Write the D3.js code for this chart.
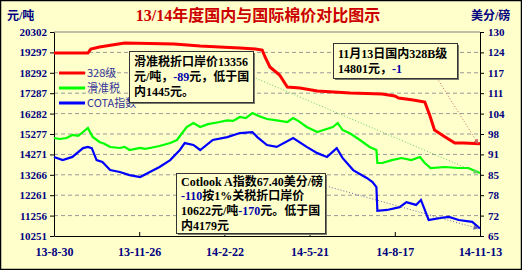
<!DOCTYPE html>
<html>
<head>
<meta charset="utf-8">
<script src="https://cdn.jsdelivr.net/npm/d3@7"></script>
<style>
  body { margin: 0; background: #fff; }
  svg text { font-family: "Liberation Serif", "Noto Sans CJK SC", serif; }
</style>
</head>
<body>
<svg id="chart" width="522" height="270"></svg>
<script>
// series: [date, value]
// 328 grade and sliding-tariff price are in yuan/ton (left axis), COTA index in cents/lb (right axis)
const red328 = [
  ["2013-08-30",19267],["2013-10-04",19267],["2013-10-07",19464],["2013-10-16",19563],
  ["2013-10-29",19662],["2013-11-11",19760],["2013-12-07",19735],["2014-01-01",19711],
  ["2014-01-28",19612],["2014-02-17",19563],["2014-03-10",19514],["2014-03-26",19464],
  ["2014-04-02",19415],["2014-04-05",19070],["2014-04-10",18578],["2014-04-20",18183],
  ["2014-04-28",17592],["2014-05-11",17543],["2014-05-29",17395],["2014-07-02",17297],
  ["2014-08-04",17247],["2014-08-17",17148],["2014-08-21",17050],["2014-09-05",16952],
  ["2014-09-17",16853],["2014-09-22",16212],["2014-09-27",15474],["2014-10-08",15129],
  ["2014-10-18",14833],["2014-10-27",14833],["2014-11-13",14801]
];
const greenTax = [
  ["2013-08-30",15079],["2013-09-05",15030],["2013-09-12",15079],["2013-09-18",15227],
  ["2013-09-24",15180],["2013-09-29",15375],["2013-10-04",15572],["2013-10-09",15129],
  ["2013-10-16",14882],["2013-10-21",14800],["2013-10-27",14636],["2013-11-06",14587],
  ["2013-11-11",14640],["2013-11-16",14488],["2013-11-27",14587],["2013-12-02",14540],
  ["2013-12-07",14587],["2013-12-17",14685],["2013-12-28",14833],["2014-01-04",14981],
  ["2014-01-09",15300],["2014-01-14",15621],["2014-01-21",15818],["2014-01-28",15621],
  ["2014-02-05",15760],["2014-02-17",15868],["2014-02-25",15950],["2014-03-03",15920],
  ["2014-03-10",16114],["2014-03-16",16060],["2014-03-23",16311],["2014-03-30",16150],
  ["2014-04-07",16016],["2014-04-17",15950],["2014-04-28",15868],["2014-05-04",16065],
  ["2014-05-10",15900],["2014-05-18",15621],["2014-05-29",15375],["2014-06-06",15500],
  ["2014-06-14",15621],["2014-06-19",15818],["2014-06-24",15474],["2014-07-02",15300],
  ["2014-07-12",14981],["2014-07-22",14636],["2014-07-29",14488],["2014-07-30",13848],
  ["2014-08-04",13848],["2014-08-14",13990],["2014-08-24",14094],["2014-09-03",13996],
  ["2014-09-12",14143],["2014-09-17",13848],["2014-09-23",13601],["2014-10-08",13651],
  ["2014-10-21",13601],["2014-11-01",13601],["2014-11-13",13356]
];
const blueCota = [
  ["2013-08-30",90.2],["2013-09-08",89.2],["2013-09-18",90.2],["2013-09-29",93.0],
  ["2013-10-04",93.4],["2013-10-08",93.0],["2013-10-13",89.2],["2013-10-19",88.6],
  ["2013-10-27",86.0],["2013-11-06",85.4],["2013-11-16",84.4],["2013-11-27",83.8],
  ["2013-12-07",85.4],["2013-12-17",87.0],["2013-12-28",89.2],["2014-01-07",92.4],
  ["2014-01-12",94.6],["2014-01-21",94.0],["2014-01-28",92.4],["2014-02-10",95.6],
  ["2014-02-25",96.5],["2014-03-10",97.8],["2014-03-23",98.1],["2014-03-28",96.5],
  ["2014-04-07",94.0],["2014-04-17",93.4],["2014-05-04",96.2],["2014-05-18",93.4],
  ["2014-05-29",91.4],["2014-06-08",90.2],["2014-06-18",93.0],["2014-06-24",89.9],
  ["2014-07-05",86.0],["2014-07-19",83.5],["2014-07-25",82.2],["2014-07-29",80.6],
  ["2014-07-30",73.0],["2014-08-09",73.3],["2014-08-22",74.2],["2014-08-29",75.8],
  ["2014-09-08",74.9],["2014-09-13",76.5],["2014-09-21",70.1],["2014-10-02",70.7],
  ["2014-10-12",71.1],["2014-10-22",70.1],["2014-11-05",69.5],["2014-11-13",67.4]
];

const leftTicks = [10251,11256,12261,13266,14271,15277,16282,17287,18292,19297,20302];
const rightTicks = [65,71.5,78,84.5,91,97.5,104,110.5,117,123.5,130];
const xTicks = ["2013-08-30","2013-11-26","2014-02-22","2014-05-21","2014-08-17","2014-11-13"];
const seriesNames = ["328级","滑准税","COTA指数"];
const seriesColors = ["#ff0000","#00ff00","#0000ff"];

const parse = d3.timeParse("%Y-%m-%d");
const svg = d3.select("#chart");

// background + frame
svg.append("rect").attr("x",0.5).attr("y",0.5).attr("width",521).attr("height",269)
  .attr("fill","#ffffcc").attr("stroke","#000").attr("stroke-width",1.5);

const x = d3.scaleTime().domain([parse(xTicks[0]), parse(xTicks[xTicks.length-1])]).range([54,480]);
const yL = d3.scaleLinear().domain([10251,20302]).range([236,32]);
const yR = d3.scaleLinear().domain([65,130]).range([236,32]);

// grid
svg.append("g").selectAll("line")
  .data(leftTicks.slice(1,-1))
  .enter().append("line")
    .attr("x1",54).attr("x2",480)
    .attr("y1",d => yL(d)).attr("y2",d => yL(d))
    .attr("stroke","#999").attr("stroke-dasharray","4,3");

// top border of plot
svg.append("line").attr("x1",54).attr("x2",480).attr("y1",32).attr("y2",32).attr("stroke","#808080");

const axisTxt = g => g.selectAll("text")
  .attr("fill","#000080").attr("font-weight","bold");

svg.append("g").attr("transform","translate(54,0)")
  .call(d3.axisLeft(yL).tickValues(leftTicks).tickFormat(d3.format("d")).tickSize(4).tickPadding(3).tickSizeOuter(0))
  .call(g => g.selectAll("text").attr("font-size",11))
  .call(axisTxt);

svg.append("g").attr("transform","translate(480,0)")
  .call(d3.axisRight(yR).tickValues(rightTicks).tickFormat(d => Math.round(d)).tickSize(4).tickPadding(4).tickSizeOuter(0))
  .call(g => g.selectAll("text").attr("font-size",11))
  .call(axisTxt);

svg.append("g").attr("transform","translate(0,236)")
  .call(d3.axisBottom(x).tickValues(xTicks.map(parse)).tickFormat(d3.timeFormat("%y-%-m-%-d"))
    .tickSizeInner(-4).tickSizeOuter(0).tickPadding(11))
  .call(g => g.selectAll("text").attr("font-size",12))
  .call(axisTxt);

svg.selectAll(".domain").attr("stroke","#000");

// lines
const lineL = d3.line().x(d => x(parse(d[0]))).y(d => yL(d[1]));
const lineR = d3.line().x(d => x(parse(d[0]))).y(d => yR(d[1]));

svg.append("path").datum(greenTax).attr("d",lineL)
  .attr("fill","none").attr("stroke",seriesColors[1]).attr("stroke-width",2.2);
svg.append("path").datum(blueCota).attr("d",lineR)
  .attr("fill","none").attr("stroke",seriesColors[2]).attr("stroke-width",2.2);
svg.append("path").datum(red328).attr("d",lineL)
  .attr("fill","none").attr("stroke",seriesColors[0]).attr("stroke-width",3);

// legend
const legend = svg.append("g").attr("transform","translate(59,73)");
seriesNames.forEach((name,i) => {
  legend.append("line").attr("x1",0).attr("x2",26).attr("y1",i*15).attr("y2",i*15)
    .attr("stroke",seriesColors[i]).attr("stroke-width",3);
  legend.append("text").attr("x",28).attr("y",i*15).attr("dy","0.35em")
    .attr("font-size",11).attr("fill","#333399")
    .style("font-family","'Noto Sans CJK SC', sans-serif")
    .text(name);
});

// titles
svg.append("text").attr("x",258).attr("y",21).attr("text-anchor","middle")
  .attr("font-size",16).attr("font-weight","bold").attr("fill","#cc0000")
  .text("13/14年度国内与国际棉价对比图示");
svg.append("text").attr("x",7).attr("y",20).attr("font-size",12).attr("font-weight","bold")
  .attr("fill","#000080").text("元/吨");
svg.append("text").attr("x",471).attr("y",20).attr("font-size",12).attr("font-weight","bold")
  .attr("fill","#000080").text("美分/磅");

// connector lines to last points
const defs = svg.append("defs");
function arrow(id, color) {
  defs.append("marker").attr("id",id).attr("viewBox","0 0 10 10").attr("refX",9).attr("refY",5)
    .attr("markerWidth",5).attr("markerHeight",5).attr("orient","auto")
    .append("path").attr("d","M0,0L10,5L0,10Z").attr("fill",color);
}
arrow("ag","#66cc66"); arrow("ar","#cc6666"); arrow("ab","#6666aa");
const last = a => a[a.length-1];
function connector(x0, y0, pt, scale, color, id) {
  svg.append("line").attr("x1",x0).attr("y1",y0)
    .attr("x2",x(parse(pt[0]))-2).attr("y2",scale(pt[1]))
    .attr("stroke",color).attr("stroke-width",1).attr("stroke-dasharray","1,2")
    .attr("marker-end",`url(#${id})`);
}
connector(253,77,last(greenTax),yL,"#66cc66","ag");
connector(437,78,last(red328),yL,"#cc6666","ar");
connector(326,186,last(blueCota),yR,"#6666aa","ab");

// annotation boxes
function box(x0, y0, w, h, lines) {
  const g = svg.append("g");
  g.append("rect").attr("x",x0+2).attr("y",y0+2).attr("width",w).attr("height",h).attr("fill","#7a7a6a");
  g.append("rect").attr("x",x0+0.5).attr("y",y0+0.5).attr("width",w).attr("height",h)
    .attr("fill","#ffffcc").attr("stroke","#333").attr("stroke-width",1);
  lines.forEach((ln,i) => {
    const t = g.append("text").attr("x",x0+5).attr("y",y0+ln.y)
      .attr("font-size",12).attr("font-weight","bold").attr("fill","#000");
    ln.parts.forEach(p => {
      t.append("tspan").attr("fill",p[1] || "#000").text(p[0]);
    });
  });
}
box(129,51,124,51,[
  {y:15, parts:[["滑准税折口岸价13356"]]},
  {y:30, parts:[["元/吨，"],["-89","#0000aa"],["元，低于国"]]},
  {y:45, parts:[["内1445元。"]]}
]);
box(333,43,124,35,[
  {y:15, parts:[["11月13日国内328B级"]]},
  {y:30, parts:[["14801元，"],["-1","#0000aa"]]}
]);
box(176,173,149,60,[
  {y:13, parts:[["Cotlook A指数67.40美分/磅"]]},
  {y:27, parts:[["-110","#0000aa"],["按1%关税折口岸价"]]},
  {y:42, parts:[["10622元/吨"],["-170","#0000aa"],["元。低于国"]]},
  {y:57, parts:[["内4179元"]]}
]);
</script>
</body>
</html>
